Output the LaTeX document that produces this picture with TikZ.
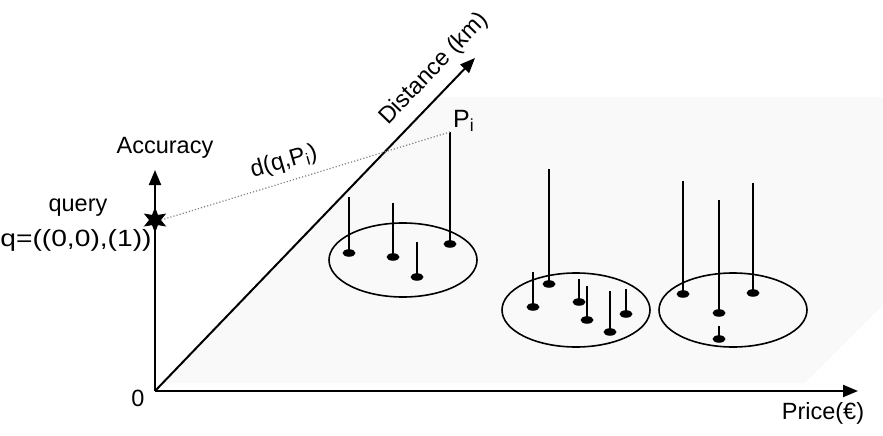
\documentclass[tikz,border=0pt]{standalone}
\usepackage{fontspec}
\setmainfont{Liberation Sans}
\usetikzlibrary{shapes.geometric,arrows.meta}
\definecolor{planegray}{RGB}{249,249,249}
\definecolor{dotgray}{RGB}{130,130,130}
\begin{document}
\begin{tikzpicture}[x=1pt,y=-1pt,
  axisline/.style={line width=2pt,-{Triangle[length=15pt,width=12pt]}},
  stemline/.style={line width=1.6pt},
  clusterbox/.style={draw,line width=1.6pt,ellipse,inner sep=0pt,minimum width=148pt,minimum height=74pt},
  dotnode/.style={ellipse,fill=black,inner sep=0pt,minimum width=13pt,minimum height=7.5pt},
  lbl/.style={font=\fontsize{23.5}{27}\selectfont,inner sep=0pt}
]
\useasboundingbox (0,0) rectangle (883,436);
% plane
\fill[planegray] (163,383) -- (437,97) -- (883,97) -- (883,305) -- (805,383) -- cycle;
% axes
\coordinate (O) at (155,391);
\coordinate (accTip) at (155,170);
\coordinate (priceTip) at (858,391);
\coordinate (distTip) at (475,58);
\draw[axisline] (O) -- (accTip);
\draw[axisline] (O) -- (priceTip);
\draw[axisline] (O) -- (distTip);
% clusters
\node[clusterbox] (c1) at (403,260) {};
\node[clusterbox] (c2) at (576,310) {};
\node[clusterbox] (c3) at (733,310) {};
% points with stems
\foreach \n/\x/\y/\t in {
  a1/349/253/197, a2/393/257/203, a3/417/277/242, pi/450/244/132,
  b1/533/307/272, b2/549/284/169, b3/579/302/279, b4/587/320/286, b5/610/332/291, b6/626/314/289,
  e1/683/294/181, e2/719/313/200, e3/753/293/183, e4/719/339/326}{
  \coordinate (\n top) at (\x,\t);
  \draw[stemline] (\n top) -- (\x,\y);
  \node[dotnode] (\n) at (\x,\y) {};
}
% query star
\node[star,star points=6,star point ratio=2.2,fill=black,inner sep=0pt,minimum size=26pt] (q) at (155,220) {};
\draw[dotgray,dotted,line width=1.2pt] (q.east) -- (pitop);
% labels
\node[lbl] (accLabel) at (165,148) {Accuracy};
\node[lbl] (queryLabel) at (78,208) {query};
\node[lbl] (qLabel) at (76,240) {\scalebox{1.2}[1]{q=((0,0),(1))}};
\node[lbl] (zeroLabel) at (138,398) {0};
\node[lbl] (priceLabel) at (823,413) {Price(€)};
\node[lbl,rotate=46] (distLabel) at (434,69) {Distance (km)};
\node[lbl,anchor=west,font=\fontsize{25}{29}\selectfont] (piLabel) at (453,121) {P\textsubscript{i}};
\node[lbl,rotate=16] (dLabel) at (284,162) {d(q,P\textsubscript{i})};
\end{tikzpicture}
\end{document}
